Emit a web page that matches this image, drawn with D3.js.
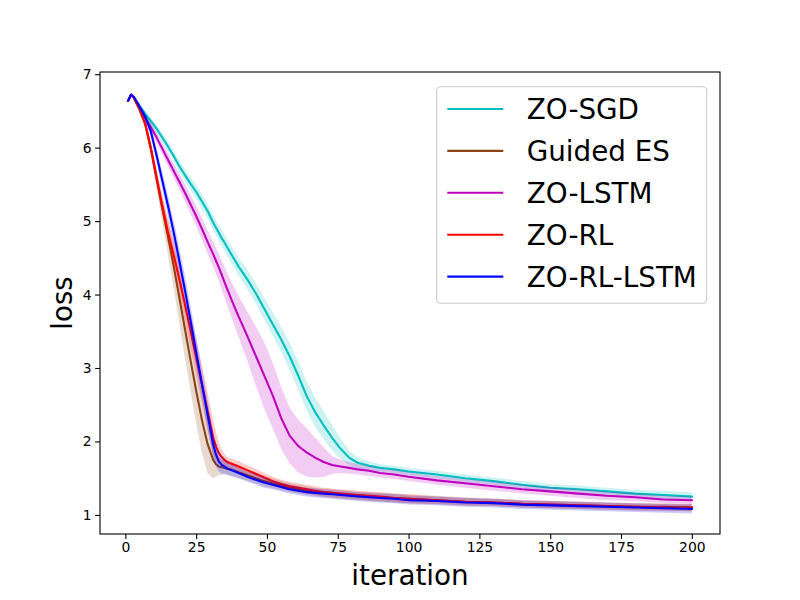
<!DOCTYPE html>
<html lang="en">
<head>
<meta charset="UTF-8">
<title>loss vs iteration</title>
<style>
  body { margin: 0; background: #fff; }
  text { font-family: "DejaVu Sans", sans-serif; }
</style>
</head>
<body>
<script src="https://cdn.jsdelivr.net/npm/d3@7"></script>
<script>
// iteration grid shared by all curves
const iters = [1, 2, 3, 5, 7, 9, 11, 13, 15, 17, 19, 21, 23, 25, 27, 29, 31, 32, 33, 34, 35, 36, 38, 40,
  43, 46, 49, 52, 55, 58, 61, 64, 67, 70, 73, 76, 79, 82, 86, 90, 95, 100,
  110, 120, 130, 140, 150, 160, 170, 180, 190, 200];

const sgdLoss = [6.64, 6.72, 6.69, 6.57, 6.46, 6.36, 6.26, 6.14, 6.02, 5.89, 5.75, 5.63, 5.51, 5.40, 5.27, 5.14, 4.98, 4.91, 4.84, 4.77, 4.71, 4.64, 4.51, 4.38,
  4.21, 4.02, 3.81, 3.60, 3.39, 3.16, 2.90, 2.62, 2.40, 2.22, 2.05, 1.90, 1.78, 1.71, 1.67, 1.64, 1.62, 1.59,
  1.55, 1.50, 1.46, 1.41, 1.37, 1.35, 1.32, 1.29, 1.27, 1.25];
const sgdStd = [0.02, 0.02, 0.02, 0.03, 0.04, 0.05, 0.06, 0.06, 0.07, 0.07, 0.08, 0.08, 0.09, 0.09, 0.10, 0.10, 0.10, 0.10, 0.10, 0.11, 0.11, 0.11, 0.12, 0.12,
  0.13, 0.14, 0.15, 0.16, 0.17, 0.18, 0.19, 0.20, 0.20, 0.19, 0.17, 0.14, 0.10, 0.07, 0.06, 0.05, 0.05, 0.05,
  0.05, 0.05, 0.05, 0.05, 0.05, 0.05, 0.05, 0.05, 0.06, 0.06];

const guidedLoss = [6.64, 6.72, 6.68, 6.52, 6.32, 5.98, 5.58, 5.18, 4.80, 4.40, 3.97, 3.54, 3.11, 2.69, 2.30, 1.97, 1.75, 1.69, 1.66, 1.65, 1.64, 1.63, 1.61, 1.58,
  1.54, 1.50, 1.46, 1.43, 1.40, 1.37, 1.35, 1.33, 1.31, 1.30, 1.29, 1.28, 1.27, 1.26, 1.25, 1.24, 1.23, 1.22,
  1.20, 1.18, 1.17, 1.15, 1.14, 1.13, 1.12, 1.11, 1.11, 1.10];
const guidedStd = [0.02, 0.02, 0.02, 0.04, 0.06, 0.10, 0.14, 0.18, 0.25, 0.30, 0.35, 0.40, 0.42, 0.45, 0.45, 0.40, 0.25, 0.17, 0.12, 0.10, 0.09, 0.08, 0.08, 0.08,
  0.07, 0.07, 0.07, 0.07, 0.06, 0.06, 0.06, 0.06, 0.06, 0.06, 0.06, 0.06, 0.06, 0.06, 0.06, 0.06, 0.06, 0.06,
  0.06, 0.06, 0.05, 0.05, 0.05, 0.05, 0.05, 0.05, 0.05, 0.05];

const lstmLoss = [6.64, 6.72, 6.69, 6.55, 6.41, 6.28, 6.14, 5.99, 5.84, 5.69, 5.54, 5.39, 5.23, 5.07, 4.90, 4.72, 4.55, 4.46, 4.37, 4.27, 4.17, 4.07, 3.88, 3.70,
  3.44, 3.17, 2.90, 2.63, 2.32, 2.08, 1.94, 1.85, 1.78, 1.72, 1.68, 1.66, 1.64, 1.62, 1.60, 1.57, 1.55, 1.52,
  1.47, 1.43, 1.39, 1.35, 1.32, 1.29, 1.26, 1.24, 1.21, 1.20];
const lstmStd = [0.02, 0.02, 0.02, 0.03, 0.05, 0.06, 0.07, 0.08, 0.09, 0.10, 0.11, 0.12, 0.13, 0.14, 0.15, 0.16, 0.17, 0.18, 0.19, 0.20, 0.21, 0.22, 0.25, 0.28,
  0.33, 0.40, 0.45, 0.45, 0.42, 0.38, 0.36, 0.33, 0.27, 0.20, 0.12, 0.09, 0.08, 0.07, 0.07, 0.06, 0.06, 0.06,
  0.06, 0.06, 0.06, 0.06, 0.06, 0.06, 0.06, 0.05, 0.05, 0.05];

const rlLoss = [6.64, 6.72, 6.68, 6.52, 6.33, 6.00, 5.60, 5.22, 4.86, 4.55, 4.22, 3.87, 3.51, 3.15, 2.79, 2.42, 2.05, 1.93, 1.84, 1.79, 1.75, 1.72, 1.69, 1.66,
  1.61, 1.56, 1.51, 1.46, 1.42, 1.39, 1.37, 1.35, 1.33, 1.31, 1.30, 1.29, 1.28, 1.27, 1.26, 1.25, 1.23, 1.22,
  1.20, 1.18, 1.17, 1.15, 1.14, 1.13, 1.12, 1.11, 1.10, 1.10];
const rlStd = [0.02, 0.02, 0.02, 0.03, 0.05, 0.07, 0.10, 0.12, 0.15, 0.18, 0.20, 0.22, 0.24, 0.25, 0.26, 0.26, 0.24, 0.20, 0.15, 0.10, 0.08, 0.07, 0.07, 0.07,
  0.07, 0.07, 0.06, 0.06, 0.06, 0.06, 0.06, 0.06, 0.06, 0.06, 0.06, 0.06, 0.06, 0.06, 0.06, 0.06, 0.06, 0.06,
  0.05, 0.05, 0.05, 0.05, 0.05, 0.05, 0.05, 0.05, 0.05, 0.05];

const rlLstmLoss = [6.64, 6.72, 6.69, 6.56, 6.42, 6.22, 5.90, 5.56, 5.22, 4.86, 4.47, 4.07, 3.65, 3.22, 2.79, 2.37, 1.96, 1.82, 1.73, 1.68, 1.66, 1.63, 1.60, 1.57,
  1.52, 1.48, 1.44, 1.41, 1.38, 1.35, 1.33, 1.31, 1.30, 1.29, 1.28, 1.27, 1.26, 1.25, 1.24, 1.23, 1.22, 1.20,
  1.19, 1.17, 1.16, 1.14, 1.13, 1.12, 1.11, 1.10, 1.09, 1.08];
const rlLstmStd = [0.02, 0.02, 0.02, 0.04, 0.06, 0.08, 0.10, 0.12, 0.14, 0.16, 0.18, 0.20, 0.20, 0.20, 0.20, 0.20, 0.18, 0.16, 0.14, 0.12, 0.10, 0.09, 0.08, 0.07,
  0.07, 0.07, 0.07, 0.06, 0.06, 0.06, 0.06, 0.06, 0.06, 0.06, 0.06, 0.06, 0.06, 0.06, 0.06, 0.06, 0.06, 0.06,
  0.06, 0.06, 0.06, 0.06, 0.06, 0.06, 0.06, 0.06, 0.06, 0.06];

const seriesNames = ["ZO-SGD", "Guided ES", "ZO-LSTM", "ZO-RL", "ZO-RL-LSTM"];
const seriesColors = ["#00bfbf", "#8b4513", "#bf00bf", "#ff0000", "#0000ff"];
const seriesLoss = [sgdLoss, guidedLoss, lstmLoss, rlLoss, rlLstmLoss];
const seriesStd = [sgdStd, guidedStd, lstmStd, rlStd, rlLstmStd];

const xTicks = [0, 25, 50, 75, 100, 125, 150, 175, 200];
const yTicks = [1, 2, 3, 4, 5, 6, 7];

const width = 800, height = 600;
const axLeft = 100, axRight = 720, axTop = 72, axBottom = 534;

const svg = d3.select("body").append("svg")
  .attr("width", width)
  .attr("height", height);

const x = d3.scaleLinear().domain([-8.95, 209.95]).range([axLeft, axRight]);
const y = d3.scaleLinear().domain([0.74, 7.03]).range([axBottom, axTop]);

const plot = svg.append("g");

seriesNames.forEach(function (name, i) {
  const pts = iters.map((it, k) => ({ it: it, m: seriesLoss[i][k], s: seriesStd[i][k] }));

  plot.append("path")
    .datum(pts)
    .attr("d", d3.area()
      .x(d => x(d.it))
      .y0(d => y(d.m - d.s))
      .y1(d => y(d.m + d.s)))
    .style("fill", seriesColors[i])
    .style("fill-opacity", 0.2)
    .style("stroke", "none");

  plot.append("path")
    .datum(pts)
    .attr("d", d3.line().x(d => x(d.it)).y(d => y(d.m)))
    .style("fill", "none")
    .style("stroke", seriesColors[i])
    .style("stroke-width", 2.08)
    .style("stroke-linejoin", "round")
    .style("stroke-linecap", "square");
});

// axes
const xAxis = svg.append("g")
  .attr("transform", `translate(0,${axBottom})`)
  .call(d3.axisBottom(x).tickValues(xTicks).tickFormat(d3.format("d"))
    .tickSize(4.9).tickPadding(3.5).tickSizeOuter(0));
const yAxis = svg.append("g")
  .attr("transform", `translate(${axLeft},0)`)
  .call(d3.axisLeft(y).tickValues(yTicks).tickFormat(d3.format("d"))
    .tickSize(4.9).tickPadding(3.5).tickSizeOuter(0));

[xAxis, yAxis].forEach(function (g) {
  g.select(".domain").remove();
  g.selectAll(".tick line").style("stroke", "#000").style("stroke-width", 1.1);
  g.selectAll(".tick text")
    .style("font-family", "DejaVu Sans")
    .style("font-size", "13.9px")
    .style("fill", "#000");
});

svg.append("rect")
  .attr("x", axLeft).attr("y", axTop)
  .attr("width", axRight - axLeft).attr("height", axBottom - axTop)
  .style("fill", "none")
  .style("stroke", "#000")
  .style("stroke-width", 1.1);

// axis labels
svg.append("text")
  .attr("x", (axLeft + axRight) / 2)
  .attr("y", 585)
  .attr("text-anchor", "middle")
  .style("font-size", "27.8px")
  .text("iteration");

svg.append("text")
  .attr("transform", `translate(72,${(axTop + axBottom) / 2}) rotate(-90)`)
  .attr("text-anchor", "middle")
  .style("font-size", "27.8px")
  .text("loss");

// legend
const legend = svg.append("g");
legend.append("rect")
  .attr("x", 436.7).attr("y", 86.7)
  .attr("width", 270).attr("height", 216.6)
  .attr("rx", 4)
  .style("fill", "#fff")
  .style("fill-opacity", 0.8)
  .style("stroke", "#cccccc")
  .style("stroke-width", 1.1);

seriesNames.forEach(function (name, i) {
  const cy = 109 + i * 41.9;
  legend.append("line")
    .attr("x1", 447.3).attr("x2", 503.3)
    .attr("y1", cy).attr("y2", cy)
    .style("stroke", seriesColors[i])
    .style("stroke-width", 2.08);
  legend.append("text")
    .attr("x", 526.7)
    .attr("y", cy + 10.1)
    .style("font-size", "27.8px")
    .style("fill", "#000")
    .text(name);
});
</script>
</body>
</html>
